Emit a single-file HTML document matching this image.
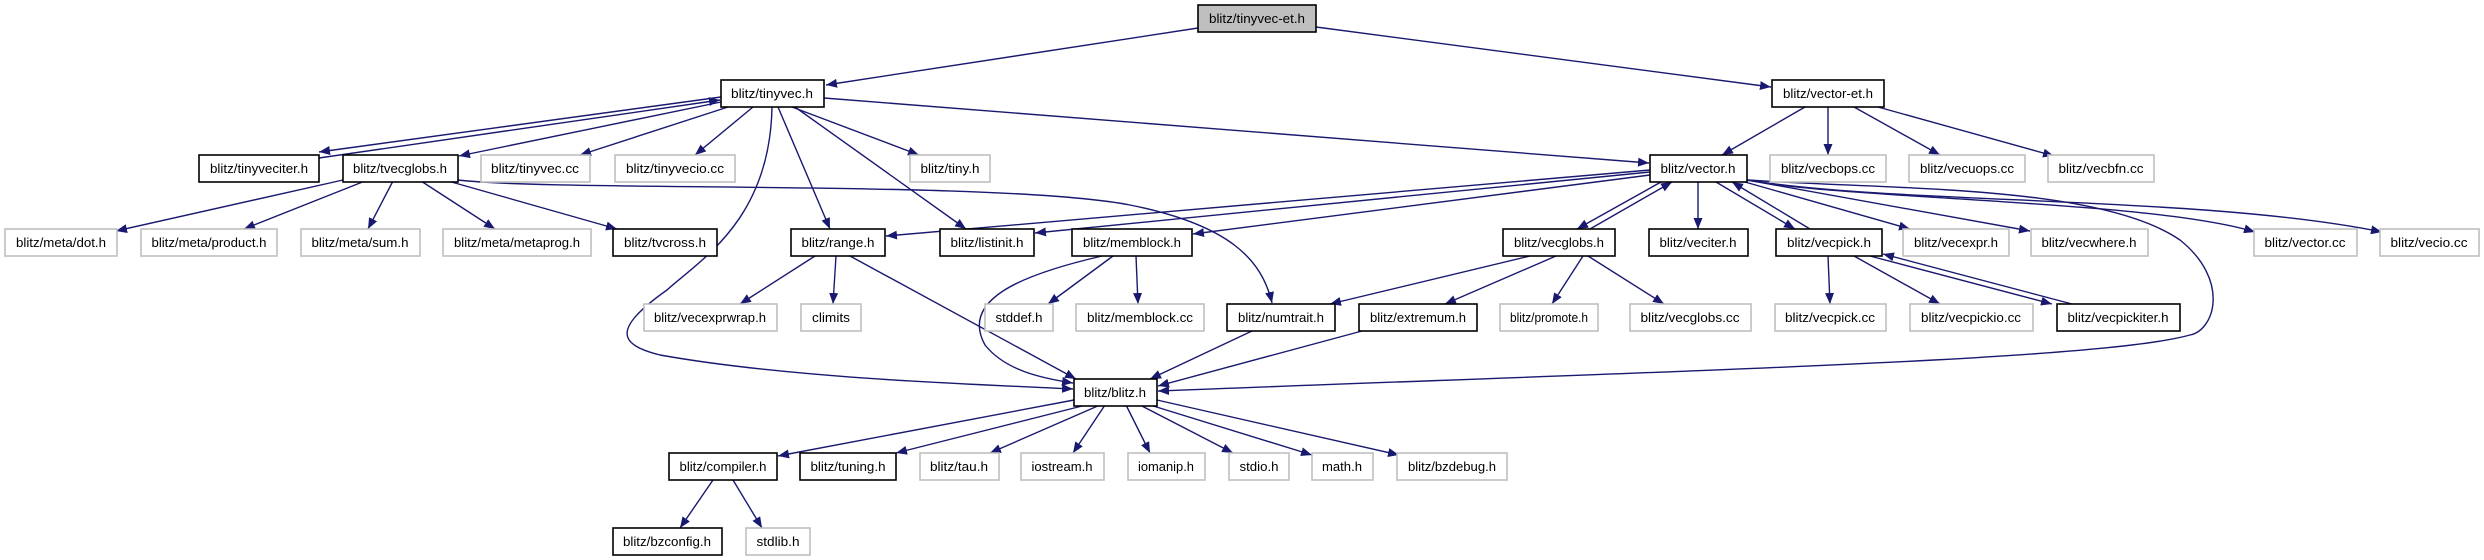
<!DOCTYPE html>
<html><head><meta charset="utf-8"><style>html,body{margin:0;padding:0;background:#fff}svg{display:block}</style></head>
<body>
<svg width="2484" height="560" viewBox="0 0 2484 560" xmlns="http://www.w3.org/2000/svg" font-family="'Liberation Sans',sans-serif" font-size="13">
<defs><marker id="a" markerUnits="userSpaceOnUse" markerWidth="12" markerHeight="10" refX="11" refY="4.5" orient="auto"><path d="M0,0 L11,4.5 L0,9 z" fill="#191970"/></marker></defs>
<g stroke="#191970" stroke-width="1.4" fill="none" marker-end="url(#a)">
<line x1="1198" y1="28" x2="826" y2="85"/>
<line x1="1316" y1="27" x2="1771" y2="87"/>
<line x1="721" y1="97" x2="319" y2="152"/>
<line x1="319" y1="158" x2="720" y2="100"/>
<line x1="721" y1="102" x2="459" y2="156"/>
<line x1="728" y1="107" x2="580" y2="155"/>
<line x1="753" y1="107" x2="695" y2="155"/>
<line x1="792" y1="107" x2="919" y2="155"/>
<line x1="795" y1="107" x2="966" y2="229"/>
<line x1="778" y1="107" x2="830" y2="229"/>
<path d="M772,107 C770,220 700,260 667,290 C610,330 620,345 660,355 C800,380 1000,385 1073,389"/>
<line x1="824" y1="98" x2="1649" y2="163"/>
<line x1="343" y1="180" x2="116" y2="231"/>
<line x1="365" y1="181" x2="244" y2="229"/>
<line x1="393" y1="181" x2="368" y2="229"/>
<line x1="421" y1="181" x2="495" y2="229"/>
<line x1="448" y1="181" x2="617" y2="229"/>
<path d="M458,180 C560,192 1000,180 1130,205 C1230,225 1262,260 1272,303"/>
<line x1="1805" y1="107" x2="1722" y2="155"/>
<line x1="1828" y1="107" x2="1828" y2="155"/>
<line x1="1854" y1="107" x2="1940" y2="155"/>
<line x1="1878" y1="107" x2="2054" y2="156"/>
<line x1="1650" y1="170" x2="886" y2="236"/>
<line x1="1650" y1="172" x2="1035" y2="233"/>
<line x1="1650" y1="175" x2="1193" y2="234"/>
<line x1="1661" y1="182" x2="1577" y2="229"/>
<line x1="1590" y1="229" x2="1672" y2="182"/>
<line x1="1698" y1="182" x2="1698" y2="229"/>
<line x1="1716" y1="182" x2="1795" y2="229"/>
<line x1="1810" y1="229" x2="1732" y2="182"/>
<line x1="1745" y1="182" x2="1910" y2="229"/>
<line x1="1747" y1="180" x2="2030" y2="231"/>
<path d="M1747,180 C1850,200 2150,200 2255,232"/>
<path d="M1747,180 C1900,205 2200,195 2382,232"/>
<path d="M1747,180 C1900,190 2100,185 2180,240 C2230,280 2215,330 2190,335 C2100,360 1700,370 1158,391"/>
<line x1="815" y1="256" x2="740" y2="304"/>
<line x1="836" y1="256" x2="833" y2="304"/>
<line x1="850" y1="256" x2="1076" y2="379"/>
<line x1="1113" y1="256" x2="1048" y2="304"/>
<line x1="1136" y1="256" x2="1138" y2="304"/>
<path d="M1102,256 C1020,275 960,300 985,345 C1005,370 1040,378 1073,383"/>
<line x1="1530" y1="256" x2="1330" y2="304"/>
<line x1="1556" y1="256" x2="1445" y2="304"/>
<line x1="1583" y1="256" x2="1552" y2="304"/>
<line x1="1588" y1="256" x2="1664" y2="304"/>
<line x1="1828" y1="256" x2="1830" y2="304"/>
<line x1="1854" y1="256" x2="1940" y2="304"/>
<line x1="1870" y1="256" x2="2052" y2="304"/>
<line x1="2072" y1="304" x2="1883" y2="254"/>
<line x1="1252" y1="331" x2="1150" y2="379"/>
<line x1="1362" y1="331" x2="1158" y2="386"/>
<line x1="1074" y1="400" x2="778" y2="456"/>
<line x1="1086" y1="405" x2="896" y2="453"/>
<line x1="1100" y1="405" x2="990" y2="453"/>
<line x1="1105" y1="405" x2="1073" y2="453"/>
<line x1="1126" y1="405" x2="1150" y2="453"/>
<line x1="1140" y1="405" x2="1233" y2="453"/>
<line x1="1150" y1="405" x2="1312" y2="455"/>
<line x1="1157" y1="400" x2="1399" y2="455"/>
<line x1="713" y1="480" x2="680" y2="528"/>
<line x1="733" y1="480" x2="762" y2="528"/>
</g>
<g stroke-width="1.6">
<rect x="1198" y="5" width="118" height="27" fill="#bfbfbf" stroke="#000"/>
<g fill="#fff" stroke="#000">
<rect x="721" y="80" width="103" height="27"/><rect x="1772" y="80" width="112" height="27"/>
<rect x="199" y="155" width="120" height="27"/><rect x="343" y="155" width="115" height="27"/><rect x="1650" y="155" width="97" height="27"/>
<rect x="613" y="229" width="104" height="27"/><rect x="791" y="229" width="94" height="27"/><rect x="940" y="229" width="94" height="27"/><rect x="1072" y="229" width="120" height="27"/><rect x="1503" y="229" width="112" height="27"/><rect x="1649" y="229" width="99" height="27"/><rect x="1776" y="229" width="106" height="27"/>
<rect x="1227" y="304" width="108" height="27"/><rect x="1359" y="304" width="118" height="27"/><rect x="2057" y="304" width="123" height="27"/>
<rect x="1074" y="379" width="83" height="27"/>
<rect x="669" y="453" width="108" height="27"/><rect x="800" y="453" width="96" height="27"/>
<rect x="613" y="528" width="109" height="27"/>
</g>
<g fill="#fff" stroke="#bfbfbf">
<rect x="481" y="155" width="109" height="27"/><rect x="615" y="155" width="120" height="27"/><rect x="910" y="155" width="80" height="27"/><rect x="1770" y="155" width="116" height="27"/><rect x="1909" y="155" width="116" height="27"/><rect x="2048" y="155" width="106" height="27"/>
<rect x="5" y="229" width="112" height="27"/><rect x="141" y="229" width="136" height="27"/><rect x="301" y="229" width="119" height="27"/><rect x="443" y="229" width="148" height="27"/><rect x="1903" y="229" width="106" height="27"/><rect x="2031" y="229" width="117" height="27"/><rect x="2254" y="229" width="103" height="27"/><rect x="2380" y="229" width="99" height="27"/>
<rect x="644" y="304" width="133" height="27"/><rect x="801" y="304" width="60" height="27"/><rect x="985" y="304" width="68" height="27"/><rect x="1076" y="304" width="128" height="27"/><rect x="1500" y="304" width="98" height="27"/><rect x="1630" y="304" width="121" height="27"/><rect x="1775" y="304" width="111" height="27"/><rect x="1910" y="304" width="123" height="27"/>
<rect x="920" y="453" width="79" height="27"/><rect x="1021" y="453" width="83" height="27"/><rect x="1128" y="453" width="77" height="27"/><rect x="1229" y="453" width="60" height="27"/><rect x="1312" y="453" width="61" height="27"/><rect x="1397" y="453" width="110" height="27"/>
<rect x="746" y="528" width="64" height="27"/>
</g></g>
<g fill="#000" text-anchor="middle" lengthAdjust="spacingAndGlyphs">
<text x="1257" y="23" textLength="96" lengthAdjust="spacingAndGlyphs">blitz/tinyvec-et.h</text>
<text x="772" y="98" textLength="82" lengthAdjust="spacingAndGlyphs">blitz/tinyvec.h</text>
<text x="1828" y="98" textLength="90" lengthAdjust="spacingAndGlyphs">blitz/vector-et.h</text>
<text x="259" y="173" textLength="98" lengthAdjust="spacingAndGlyphs">blitz/tinyveciter.h</text>
<text x="400" y="173" textLength="94" lengthAdjust="spacingAndGlyphs">blitz/tvecglobs.h</text>
<text x="535" y="173" textLength="88" lengthAdjust="spacingAndGlyphs">blitz/tinyvec.cc</text>
<text x="675" y="173" textLength="98" lengthAdjust="spacingAndGlyphs">blitz/tinyvecio.cc</text>
<text x="950" y="173" textLength="59" lengthAdjust="spacingAndGlyphs">blitz/tiny.h</text>
<text x="1698" y="173" textLength="75" lengthAdjust="spacingAndGlyphs">blitz/vector.h</text>
<text x="1828" y="173" textLength="94" lengthAdjust="spacingAndGlyphs">blitz/vecbops.cc</text>
<text x="1967" y="173" textLength="94" lengthAdjust="spacingAndGlyphs">blitz/vecuops.cc</text>
<text x="2101" y="173" textLength="85" lengthAdjust="spacingAndGlyphs">blitz/vecbfn.cc</text>
<text x="61" y="247" textLength="90" lengthAdjust="spacingAndGlyphs">blitz/meta/dot.h</text>
<text x="209" y="247" textLength="115" lengthAdjust="spacingAndGlyphs">blitz/meta/product.h</text>
<text x="360" y="247" textLength="97" lengthAdjust="spacingAndGlyphs">blitz/meta/sum.h</text>
<text x="517" y="247" textLength="126" lengthAdjust="spacingAndGlyphs">blitz/meta/metaprog.h</text>
<text x="665" y="247" textLength="82" lengthAdjust="spacingAndGlyphs">blitz/tvcross.h</text>
<text x="838" y="247" textLength="73" lengthAdjust="spacingAndGlyphs">blitz/range.h</text>
<text x="987" y="247" textLength="73" lengthAdjust="spacingAndGlyphs">blitz/listinit.h</text>
<text x="1132" y="247" textLength="98" lengthAdjust="spacingAndGlyphs">blitz/memblock.h</text>
<text x="1559" y="247" textLength="90" lengthAdjust="spacingAndGlyphs">blitz/vecglobs.h</text>
<text x="1698" y="247" textLength="77" lengthAdjust="spacingAndGlyphs">blitz/veciter.h</text>
<text x="1829" y="247" textLength="84" lengthAdjust="spacingAndGlyphs">blitz/vecpick.h</text>
<text x="1956" y="247" textLength="84" lengthAdjust="spacingAndGlyphs">blitz/vecexpr.h</text>
<text x="2089" y="247" textLength="95" lengthAdjust="spacingAndGlyphs">blitz/vecwhere.h</text>
<text x="2305" y="247" textLength="81" lengthAdjust="spacingAndGlyphs">blitz/vector.cc</text>
<text x="2429" y="247" textLength="77" lengthAdjust="spacingAndGlyphs">blitz/vecio.cc</text>
<text x="710" y="322" textLength="112" lengthAdjust="spacingAndGlyphs">blitz/vecexprwrap.h</text>
<text x="831" y="322" textLength="38" lengthAdjust="spacingAndGlyphs">climits</text>
<text x="1019" y="322" textLength="47" lengthAdjust="spacingAndGlyphs">stddef.h</text>
<text x="1140" y="322" textLength="106" lengthAdjust="spacingAndGlyphs">blitz/memblock.cc</text>
<text x="1281" y="322" textLength="86" lengthAdjust="spacingAndGlyphs">blitz/numtrait.h</text>
<text x="1418" y="322" textLength="96" lengthAdjust="spacingAndGlyphs">blitz/extremum.h</text>
<text x="1549" y="322" textLength="78" lengthAdjust="spacingAndGlyphs">blitz/promote.h</text>
<text x="1690" y="322" textLength="99" lengthAdjust="spacingAndGlyphs">blitz/vecglobs.cc</text>
<text x="1830" y="322" textLength="90" lengthAdjust="spacingAndGlyphs">blitz/vecpick.cc</text>
<text x="1971" y="322" textLength="100" lengthAdjust="spacingAndGlyphs">blitz/vecpickio.cc</text>
<text x="2118" y="322" textLength="101" lengthAdjust="spacingAndGlyphs">blitz/vecpickiter.h</text>
<text x="1115" y="397" textLength="62" lengthAdjust="spacingAndGlyphs">blitz/blitz.h</text>
<text x="723" y="471" textLength="87" lengthAdjust="spacingAndGlyphs">blitz/compiler.h</text>
<text x="848" y="471" textLength="75" lengthAdjust="spacingAndGlyphs">blitz/tuning.h</text>
<text x="959" y="471" textLength="58" lengthAdjust="spacingAndGlyphs">blitz/tau.h</text>
<text x="1062" y="471" textLength="61" lengthAdjust="spacingAndGlyphs">iostream.h</text>
<text x="1166" y="471" textLength="56" lengthAdjust="spacingAndGlyphs">iomanip.h</text>
<text x="1259" y="471" textLength="39" lengthAdjust="spacingAndGlyphs">stdio.h</text>
<text x="1342" y="471" textLength="40" lengthAdjust="spacingAndGlyphs">math.h</text>
<text x="1452" y="471" textLength="88" lengthAdjust="spacingAndGlyphs">blitz/bzdebug.h</text>
<text x="667" y="546" textLength="88" lengthAdjust="spacingAndGlyphs">blitz/bzconfig.h</text>
<text x="778" y="546" textLength="43" lengthAdjust="spacingAndGlyphs">stdlib.h</text>
</g>
</svg>
</body></html>
